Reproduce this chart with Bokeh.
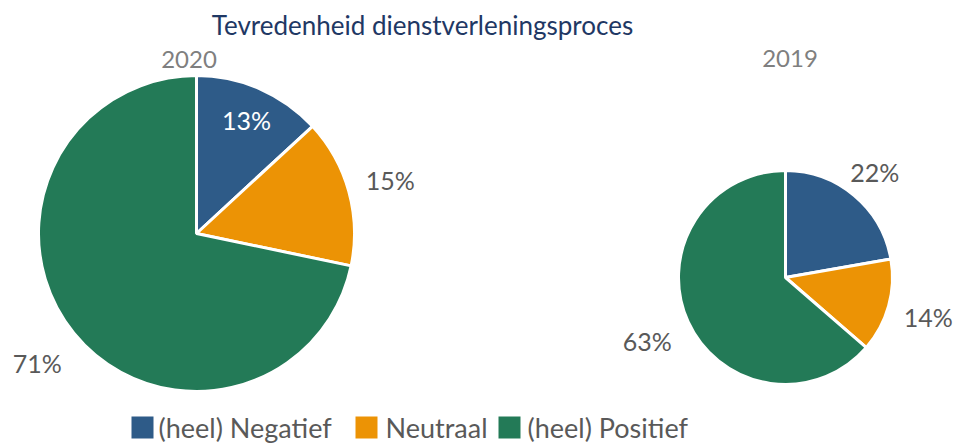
import numpy as np
from bokeh.plotting import figure
from bokeh.models import Range1d
from bokeh.core.properties import value
from bokeh.embed import file_html
from bokeh.resources import INLINE

# ---------------- data ----------------
title = "Tevredenheid dienstverleningsproces"
categories = ["(heel) Negatief", "Neutraal", "(heel) Positief"]
years = ["2020", "2019"]
values_2020 = [13, 15, 71]
values_2019 = [22, 14, 63]
labels_2020 = ["13%", "15%", "71%"]
labels_2019 = ["22%", "14%", "63%"]

# ---------------- style / layout ----------------
colors = ["#2E5B88", "#EC9305", "#237A57"]
FONT = "Lato"
W, H = 958, 446
TDY = 8.5  # empirical correction of the svg text baseline

def X(xp):  # page pixel -> data
    return xp

def Y(yp):
    return H - yp

def YT(yp):  # baseline position for text
    return H - yp + TDY

p = figure(width=W, height=H, x_range=Range1d(0, W), y_range=Range1d(0, H),
           output_backend="svg", toolbar_location=None, min_border=0)
p.axis.visible = False
p.grid.visible = False
p.outline_line_color = None
p.background_fill_color = "white"
p.border_fill_color = "white"

# pies: (values, labels, centre, radius, label distances, label colours)
pies = [
    (values_2020, labels_2020, (196, 233), 158, ["in0.79", 43, 47], ["white", "#595959", "#595959"]),
    (values_2019, labels_2019, (785, 277), 107, [32, 41, 45], ["#595959", "#595959", "#595959"]),
]
LABEL_FS = 25
for vals, labs, (cxp, cyp), R, dists, lcols in pies:
    v = np.array(vals, dtype=float)
    frac = v / v.sum()
    cum = np.concatenate([[0], np.cumsum(frac)])
    start = np.pi / 2 - 2 * np.pi * cum[:-1]
    end = np.pi / 2 - 2 * np.pi * cum[1:]
    cx, cy = X(cxp), Y(cyp)
    p.wedge(x=[cx] * len(v), y=[cy] * len(v), radius=R,
            start_angle=list(start), end_angle=list(end), direction="clock",
            fill_color=colors, line_color="white", line_width=3)
    mid = (start + end) / 2
    lx, ly = [], []
    for m, d in zip(mid, dists):
        if isinstance(d, str):
            dd = float(d[2:]) * R
        else:
            dd = R + d
        lx.append(cx + dd * np.cos(m))
        ly.append(cy + dd * np.sin(m) - 0.36 * LABEL_FS + TDY)
    p.text(x=lx, y=ly, text=labs, text_color=lcols, text_font=value(FONT),
           text_font_size=f"{LABEL_FS}px", text_align="center", text_baseline="alphabetic")

# title
p.text(x=[X(422)], y=[YT(33)], text=[title], text_color="#1F3864", text_font=value(FONT),
       text_font_size="26px", text_align="center", text_baseline="alphabetic")
# year labels
p.text(x=[X(188.5), X(789.5)], y=[YT(67), YT(66)], text=years, text_color="#7F7F7F",
       text_font=value(FONT), text_font_size="24px", text_align="center",
       text_baseline="alphabetic")

# legend (manual)
sq_x = [131, 355, 498]
tx_x = [158, 385, 527]
SQ = 22
p.rect(x=[X(s + SQ / 2) for s in sq_x], y=[Y(427)] * 3, width=SQ, height=SQ,
       fill_color=colors, line_color=None)
p.text(x=[X(t) for t in tx_x], y=[YT(435.5)] * 3, text=categories, text_color="#595959",
       text_font=value(FONT), text_font_size="27px", text_align="left",
       text_baseline="alphabetic")

open("out.html", "w").write(file_html(p, INLINE))
